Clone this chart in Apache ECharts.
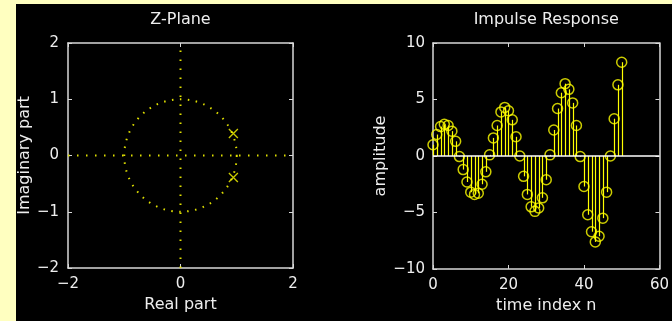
<!DOCTYPE html>
<html><head><meta charset="utf-8">
<script src="https://cdn.jsdelivr.net/npm/echarts@6/dist/echarts.min.js"></script>
<style>
html,body{margin:0;padding:0;background:#FFFFC0;width:672px;height:321px;overflow:hidden}
#c{position:absolute;left:16px;top:4px;width:656px;height:317px;background:#000}
</style></head><body><div id="c"></div>
<script>
// Z-plane data
const poles = [[0.94, 0.39], [0.94, -0.39]];
const unitCircle = [[0, 0, 1]];
const zTicksX = [-2, 0, 2];
const zTicksY = [-2, -1, 0, 1, 2];
// Impulse response data
const nIdx = [0,1,2,3,4,5,6,7,8,9,10,11,12,13,14,15,16,17,18,19,20,21,22,23,24,25,26,27,28,29,30,31,32,33,34,35,36,37,38,39,40,41,42,43,44,45,46,47,48,49,50];
const hVals = [1.0,1.9,2.6,2.8,2.7,2.2,1.3,-0.05,-1.2,-2.3,-3.2,-3.4,-3.3,-2.5,-1.4,0.1,1.6,2.7,3.9,4.3,4.0,3.2,1.7,0.0,-1.8,-3.4,-4.5,-4.9,-4.6,-3.7,-2.1,0.1,2.3,4.2,5.6,6.4,5.9,4.7,2.7,-0.05,-2.7,-5.2,-6.7,-7.6,-7.1,-5.5,-3.2,0.0,3.3,6.3,8.3];
const hTicksX = [0, 20, 40, 60];
const hTicksY = [-10, -5, 0, 5, 10];

const FONT = 'DejaVu Sans';
const TXT = '#eeeeee';
const AX = '#d8d8d8';
const YEL = '#ffff00';

function fmt(v){ return String(v).replace('-', '\u2212'); }
function lab(margin){ return {color:TXT,fontFamily:FONT,fontSize:15,margin:margin,formatter:fmt}; }

function axisBase(extra){
  return Object.assign({
    type:'value',
    axisLine:{show:true,onZero:false,lineStyle:{color:AX,width:1.5}},
    axisTick:{show:true,inside:true,length:4,lineStyle:{color:AX}},
    splitLine:{show:false},
    axisLabel:lab(8),
    nameTextStyle:{color:TXT,fontFamily:FONT,fontSize:16}
  }, extra);
}

const chart = echarts.init(document.getElementById('c'), null, {renderer:'canvas'});
const stemData = nIdx.map((n,i)=>[n,hVals[i]]);
const poleData = poles;

chart.setOption({
  animation:false,
  backgroundColor:'#000',
  grid:[
    {left:51, top:39, width:226, height:225},
    {left:417, top:39, width:236, height:226}
  ],
  xAxis:[
    axisBase({gridIndex:0,min:zTicksX[0],max:zTicksX[zTicksX.length-1],interval:2,position:'bottom',
      name:'Real part',nameLocation:'middle',nameGap:24,axisLabel:lab(9)}),
    axisBase({gridIndex:0,min:-2,max:2,interval:2,position:'top',axisLabel:{show:false},
      name:'Z-Plane',nameLocation:'middle',nameGap:15}),
    axisBase({gridIndex:1,min:hTicksX[0],max:hTicksX[hTicksX.length-1],interval:20,position:'bottom',
      name:'time index n',nameLocation:'middle',nameGap:24,axisLabel:lab(9)}),
    axisBase({gridIndex:1,min:0,max:60,interval:20,position:'top',axisLabel:{show:false},
      name:'Impulse Response',nameLocation:'middle',nameGap:15})
  ],
  yAxis:[
    axisBase({gridIndex:0,min:zTicksY[0],max:zTicksY[zTicksY.length-1],interval:1,position:'left',
      name:'Imaginary part',nameLocation:'middle',nameGap:34,axisLabel:lab(9)}),
    axisBase({gridIndex:0,min:-2,max:2,interval:1,position:'right',axisLabel:{show:false}}),
    axisBase({gridIndex:1,min:hTicksY[0],max:hTicksY[hTicksY.length-1],interval:5,position:'left',
      name:'amplitude',nameLocation:'middle',nameGap:44,axisLabel:lab(8)}),
    axisBase({gridIndex:1,min:-10,max:10,interval:5,position:'right',axisLabel:{show:false}})
  ],
  series:[
    {type:'line',xAxisIndex:0,yAxisIndex:0,data:[[-2,0],[2,0]],symbol:'none',
      lineStyle:{color:'#e0e000',width:2,type:[1.5,7.5]}},
    {type:'line',xAxisIndex:0,yAxisIndex:0,data:[[0,-2],[0,2]],symbol:'none',
      lineStyle:{color:'#e0e000',width:2,type:[1.5,7.5]}},
    {type:'custom',xAxisIndex:0,yAxisIndex:0,data:unitCircle,
      renderItem:function(params,api){
        const c = api.coord([api.value(0),api.value(1)]);
        const r = api.size([api.value(2),api.value(2)])[0];
        return {type:'circle',shape:{cx:c[0],cy:c[1],r:r},
          style:{fill:'none',stroke:'#e0e000',lineWidth:2,lineDash:[1.5,6.5]}};
      }},
    {type:'scatter',xAxisIndex:0,yAxisIndex:0,data:poleData,symbol:'path://M0,0L10,10M10,0L0,10',
      symbolSize:9,itemStyle:{color:'none',borderColor:YEL,borderWidth:1.3}},
    {type:'custom',xAxisIndex:2,yAxisIndex:2,data:stemData,
      renderItem:function(params,api){
        const a = api.coord([api.value(0),0]);
        const b = api.coord([api.value(0),api.value(1)]);
        return {type:'line',shape:{x1:Math.round(a[0])+0.5,y1:a[1],x2:Math.round(a[0])+0.5,y2:b[1]},
          style:{stroke:YEL,lineWidth:1.2}};
      }},
    {type:'scatter',xAxisIndex:2,yAxisIndex:2,data:stemData,symbol:'circle',symbolSize:10,
      itemStyle:{color:'rgba(0,0,0,0)',borderColor:YEL,borderWidth:1.5}},
    {type:'line',xAxisIndex:2,yAxisIndex:2,data:[[0,0],[60,0]],symbol:'none',z:5,
      lineStyle:{color:'#ffffff',width:1.5}}
  ]
});
</script></body></html>
